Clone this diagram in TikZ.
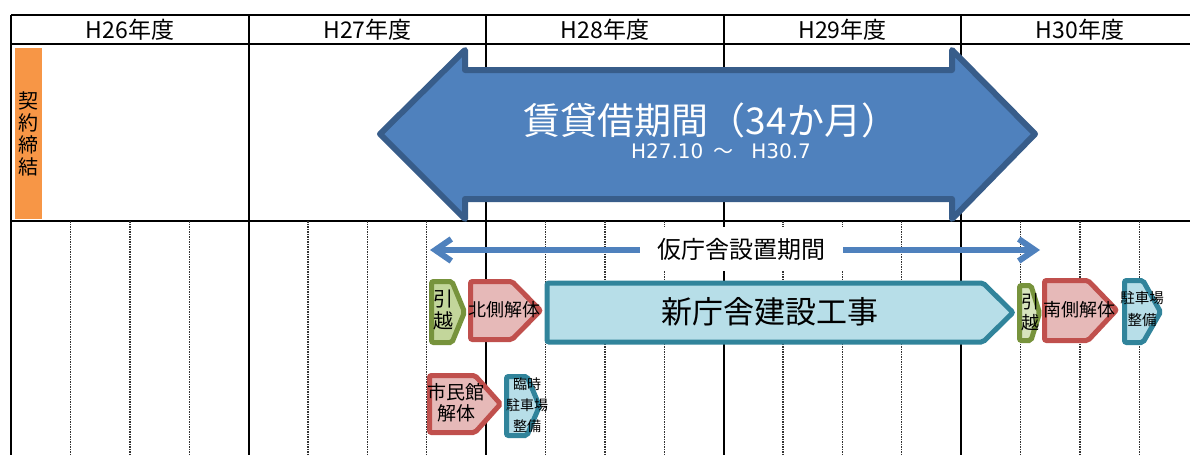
\documentclass[tikz,border=0pt]{standalone}
\usepackage{fontspec}
\setmainfont{Noto Sans CJK JP}
\newfontfamily\hfont{DejaVu Sans}
\usetikzlibrary{arrows.meta}

\definecolor{arrblue}{HTML}{4F81BD}
\definecolor{arrborder}{HTML}{385D8A}
\definecolor{grnline}{HTML}{77933C}
\definecolor{grnfill}{HTML}{C3D69B}
\definecolor{grnpale}{HTML}{D7E4BD}
\definecolor{redline}{HTML}{C0504D}
\definecolor{redfill}{HTML}{E6B9B8}
\definecolor{tealline}{HTML}{31849B}
\definecolor{tealfill}{HTML}{B7DEE8}
\definecolor{orng}{HTML}{F79646}

\tikzset{
  yearline/.style={line width=2pt},
  qline/.style={line width=1.4pt,black!80,dash pattern=on 1.5pt off 1pt},
  hdr/.style={inner sep=0pt,font=\fontsize{23}{23}\selectfont},
  bigarrow/.style={line width=6pt,draw=arrborder,fill=arrblue,line join=round},
  kariarrow/.style={line width=6pt,draw=arrblue,
    {Straight Barb[length=16pt,width=22pt]}-{Straight Barb[length=16pt,width=22pt]}},
  greenbox/.style={line width=5pt,draw=grnline,fill=grnfill,rounded corners=2pt},
  redbox/.style={line width=5pt,draw=redline,fill=redfill,rounded corners=2pt},
  tealbox/.style={line width=5pt,draw=tealline,fill=tealfill,rounded corners=2pt},
  lbl/.style={inner sep=0pt,align=center},
}

\begin{document}
\begin{tikzpicture}[x=1pt,y=-1pt]
\useasboundingbox (0,0) rectangle (1190,455);

% table
\draw[yearline] (11,15) -- (1190,15);
\draw[yearline] (11,44) -- (1190,44);
\draw[yearline] (11,221) -- (1190,221);
\foreach \x in {11,248.5,486,723.5,961} {
  \draw[yearline] (\x,15) -- (\x,455);
  \foreach \q in {1,2,3}
    \draw[qline] (\x+59.4*\q,221) -- (\x+59.4*\q,455);
}
\foreach \n [count=\i from 0] in {26,...,30}
  \node[hdr] (h\n) at (130+237.5*\i,30) {H\n{}年度};

% contract
\node[fill=orng,minimum width=27pt,minimum height=171pt,inner sep=0pt,lbl,
  font=\fontsize{20}{22}\selectfont] (keiyaku) at (28.5,133.5) {契\\約\\締\\結};

% lease period
\draw[bigarrow] (380,134) -- (465,50) -- (465,70) -- (952,70) -- (952,50)
  -- (1035,134) -- (952,219) -- (952,199) -- (465,199) -- (465,219) -- cycle;
\node[lbl,white,font=\fontsize{37}{37}\selectfont] (lease) at (711,120) {賃貸借期間（34か月）};
\node[lbl,white,font=\fontsize{20}{20}\selectfont] (leaseterm) at (721,151)
  {{\hfont H27.10}\hspace{10pt}～\hspace{18pt}{\hfont H30.7}};

% temporary office
\coordinate (kl) at (430,250);
\coordinate (kr) at (1040,250);
\draw[kariarrow] (kl) -- (kr);
\node[fill=white,minimum width=203pt,minimum height=44pt,inner sep=0pt,
  font=\fontsize{24}{24}\selectfont] (kari) at (741.5,249) {仮庁舎設置期間};

% first row
\draw[greenbox] (431.5,281.5) -- (452,281.5) -- (464.5,312) -- (452,342.5) -- (431.5,342.5) -- cycle;
\node[lbl,font=\fontsize{20}{22}\selectfont] (move1) at (443,310) {引\\越};
\draw[redbox] (470.5,281.5) -- (512,281.5) -- (540.5,310.5) -- (512,339.5) -- (470.5,339.5) -- cycle;
\node[lbl,font=\fontsize{18}{18}\selectfont] (north) at (504,310) {北側解体};
\draw[tealbox] (547,283) -- (983,283) -- (1013,312.5) -- (983,342) -- (547,342) -- cycle;
\node[lbl,font=\fontsize{31}{31}\selectfont] (build) at (770,312) {新庁舎建設工事};
\draw[greenbox,fill=grnpale] (1019.5,285.5) -- (1031,285.5) -- (1039.5,313) -- (1031,340.5) -- (1019.5,340.5) -- cycle;
\node[lbl,font=\fontsize{18}{21}\selectfont] (move2) at (1030,312) {引\\越};
\draw[redbox] (1044.5,280.5) -- (1088,280.5) -- (1116.5,310) -- (1088,340.5) -- (1044.5,340.5) -- cycle;
\node[lbl,font=\fontsize{18}{18}\selectfont] (south) at (1079,310) {南側解体};
\draw[tealbox] (1124.5,280.5) -- (1143,280.5) -- (1160.5,312) -- (1143,342.5) -- (1124.5,342.5) -- cycle;
\node[lbl,font=\fontsize{14.5}{22}\selectfont] (parking) at (1142,308.5) {駐車場\\整備};

% second row
\draw[redbox] (429.5,375.5) -- (475,375.5) -- (500.5,404) -- (475,432.5) -- (429.5,432.5) -- cycle;
\node[lbl,font=\fontsize{19}{21}\selectfont] (hall) at (456,402.5) {市民館\\解体};
\draw[tealbox] (506.5,376.5) -- (527,376.5) -- (539.5,406) -- (527,435.5) -- (506.5,435.5) -- cycle;
\node[lbl,font=\fontsize{14}{21}\selectfont] (tmppark) at (527,405) {臨時\\駐車場\\整備};
\end{tikzpicture}
\end{document}
